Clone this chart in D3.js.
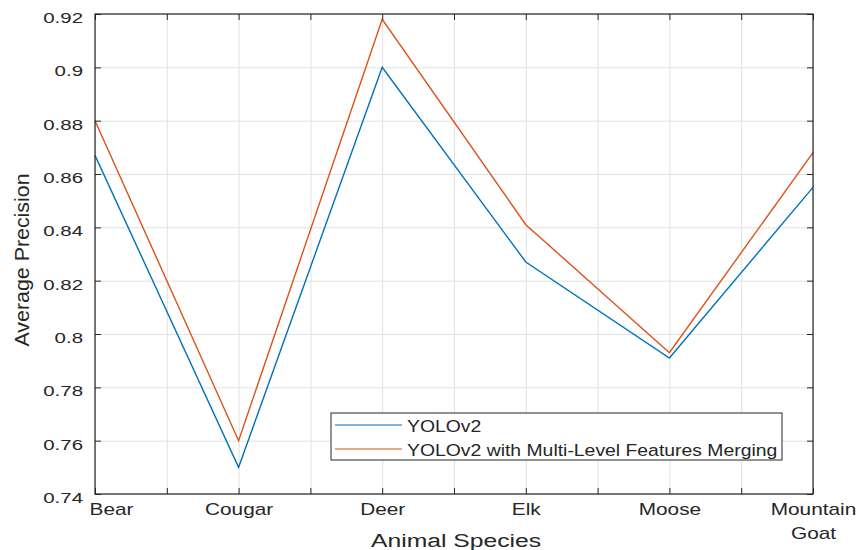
<!DOCTYPE html>
<html>
<head>
<meta charset="utf-8">
<script src="https://cdn.jsdelivr.net/npm/d3@7"></script>
<style>
  body { margin: 0; background: #fff; }
  svg { display: block; background: #fff; }
  text { font-family: "Liberation Sans", Arial, Helvetica, sans-serif; fill: #262626; }
</style>
</head>
<body>
<svg id="chart" width="862" height="550"></svg>
<script>
// Average precision per animal species for the two detectors
const categories = ["Bear", "Cougar", "Deer", "Elk", "Moose", "Mountain Goat"];
const yolov2 = [0.867, 0.750, 0.900, 0.827, 0.791, 0.855];
const yolov2Merged = [0.880, 0.760, 0.918, 0.841, 0.793, 0.868];
const seriesNames = ["YOLOv2", "YOLOv2 with Multi-Level Features Merging"];
const seriesColors = ["#0072BD", "#D95319"];
const yTicks = [0.74, 0.76, 0.78, 0.80, 0.82, 0.84, 0.86, 0.88, 0.90, 0.92];
const yDomain = [0.74, 0.92];
const xTitle = "Animal Species";
const yTitle = "Average Precision";

const svg = d3.select("#chart");
const plot = { left: 95, right: 813, top: 14, bottom: 494 };
const axisColor = "#262626";
const gridColor = "#e1e1e1";

const x = d3.scaleLinear().domain([0, categories.length - 1]).range([plot.left, plot.right]);
const y = d3.scaleLinear().domain(yDomain).range([plot.bottom, plot.top]);
const xGridTicks = d3.range(0, categories.length - 1 + 1e-9, 0.5);

// Horizontal stretch for labels (keeps the anchor point fixed)
function stretchTicks(g, k) {
  g.selectAll(".tick text").each(function () {
    const t = d3.select(this);
    t.attr("x", (+t.attr("x") || 0) / k).attr("transform", `scale(${k},1)`);
  });
}

// Grid
svg.append("g")
  .attr("transform", `translate(0,${plot.bottom})`)
  .call(d3.axisBottom(x).tickValues(xGridTicks).tickSize(-(plot.bottom - plot.top)).tickFormat(""))
  .call(g => g.select(".domain").remove())
  .call(g => g.selectAll(".tick line").attr("stroke", gridColor).attr("stroke-width", 1));
svg.append("g")
  .attr("transform", `translate(${plot.left},0)`)
  .call(d3.axisLeft(y).tickValues(yTicks).tickSize(-(plot.right - plot.left)).tickFormat(""))
  .call(g => g.select(".domain").remove())
  .call(g => g.selectAll(".tick line").attr("stroke", gridColor).attr("stroke-width", 1));

// Series lines
const series = [yolov2, yolov2Merged];
const line = d3.line().x((d, i) => x(i)).y(d => y(d));
series.forEach((vals, s) => {
  svg.append("path")
    .datum(vals)
    .attr("fill", "none")
    .attr("stroke", seriesColors[s])
    .attr("stroke-width", 1.4)
    .attr("stroke-linejoin", "miter")
    .attr("d", line);
});

// Axes with inward ticks on all four sides
const tickLen = 6;
const xAxisG = svg.append("g")
  .attr("transform", `translate(0,${plot.bottom})`)
  .call(d3.axisBottom(x).tickValues(xGridTicks).tickSizeInner(-tickLen).tickSizeOuter(0).tickPadding(9.5)
    .tickFormat(v => Number.isInteger(v) ? categories[v] : ""));
xAxisG.selectAll(".tick text")
  .style("font-size", "16px")
  .attr("fill", axisColor)
  .each(function (v) {
    const t = d3.select(this);
    if (!Number.isInteger(v)) return;
    const words = categories[v].split(" ");
    if (words.length > 1) {
      t.text(null);
      words.forEach((w, i) => {
        t.append("tspan").attr("x", 0).attr("dy", i === 0 ? "0.71em" : "1.5em").text(w);
      });
      t.attr("dy", null);
    }
    if (v === 0) t.attr("text-anchor", "start").attr("x", -6);
  });
stretchTicks(xAxisG, 1.3);
xAxisG.selectAll(".tick text tspan").attr("x", 0);

const yAxisG = svg.append("g")
  .attr("transform", `translate(${plot.left},0)`)
  .call(d3.axisLeft(y).tickValues(yTicks).tickSizeInner(-tickLen).tickSizeOuter(0).tickPadding(12)
    .tickFormat(d3.format("~g")));
yAxisG.selectAll(".tick text").style("font-size", "15.5px").attr("fill", axisColor).attr("dy", "0.55em");
stretchTicks(yAxisG, 1.32);

svg.append("g")
  .attr("transform", `translate(0,${plot.top})`)
  .call(d3.axisTop(x).tickValues(xGridTicks).tickSizeInner(-tickLen).tickSizeOuter(0).tickFormat(""));
svg.append("g")
  .attr("transform", `translate(${plot.right},0)`)
  .call(d3.axisRight(y).tickValues(yTicks).tickSizeInner(-tickLen).tickSizeOuter(0).tickFormat(""));

svg.selectAll(".domain").remove();
svg.selectAll(".tick line").filter(function () { return d3.select(this).attr("stroke") !== gridColor; })
  .attr("stroke", axisColor);

// Axes box
svg.append("rect")
  .attr("x", plot.left).attr("y", plot.top)
  .attr("width", plot.right - plot.left).attr("height", plot.bottom - plot.top)
  .attr("fill", "none").attr("stroke", axisColor).attr("stroke-width", 1.2);

// Axis titles
svg.append("text")
  .attr("transform", `translate(${(plot.left + plot.right) / 2 + 2},547) scale(1.3,1)`)
  .attr("text-anchor", "middle")
  .style("font-size", "19px")
  .text(xTitle);
svg.append("text")
  .attr("transform", `translate(29,${(plot.top + plot.bottom) / 2 + 6}) rotate(-90) scale(1.07,1)`)
  .attr("text-anchor", "middle")
  .style("font-size", "20px")
  .text(yTitle);

// Legend
const legend = svg.append("g").attr("transform", "translate(331,413)");
legend.append("rect")
  .attr("width", 451).attr("height", 47)
  .attr("fill", "#fff").attr("stroke", axisColor).attr("stroke-width", 1);
seriesNames.forEach((name, i) => {
  const cy = 12 + i * 24;
  legend.append("line")
    .attr("x1", 4).attr("x2", 71).attr("y1", cy).attr("y2", cy)
    .attr("stroke", seriesColors[i]).attr("stroke-width", 1.2);
  legend.append("text")
    .attr("transform", `translate(76,${cy + 6.5}) scale(1.14,1)`)
    .style("font-size", "17px")
    .text(name);
});
</script>
</body>
</html>
